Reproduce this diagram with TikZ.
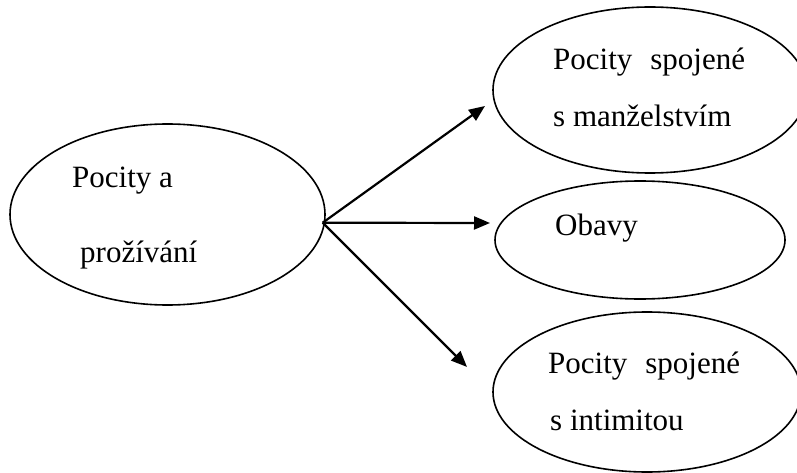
\documentclass[tikz,border=0pt]{standalone}
\usepackage{fontspec}
\setmainfont{Liberation Serif}
\usetikzlibrary{shapes.geometric,arrows.meta}
\begin{document}
\begin{tikzpicture}[x=1pt,y=-1pt,
  bubble/.style={ellipse,draw,line width=1.6pt,inner sep=0pt,outer sep=0pt},
  txt/.style={anchor=base west,inner sep=0pt,font=\fontsize{31}{31}\selectfont},
  conn/.style={line width=2.2pt,-{Triangle[length=16pt,width=13pt]}}]
\useasboundingbox (0,0) rectangle (797,473);
\node[bubble,minimum width=315pt,minimum height=181pt] (src) at (167.5,214.5) {};
\node[bubble,minimum width=314pt,minimum height=166pt] (top) at (650,90) {};
\node[bubble,minimum width=290pt,minimum height=118pt] (mid) at (640,240) {};
\node[bubble,minimum width=308pt,minimum height=160pt] (bot) at (647,392) {};
\node[txt] (s1) at (72,188) {Pocity a};
\node[txt] (s2) at (80,262) {prožívání};
\node[txt] (t1) at (553,70) {Pocity\hspace{18pt}spojené};
\node[txt] (t2) at (553,127) {s manželstvím};
\node[txt] (m1) at (555,235) {Obavy};
\node[txt] (b1) at (548,373) {Pocity\hspace{18pt}spojené};
\node[txt] (b2) at (550,430) {s intimitou};
\coordinate (start) at (322.7,222.7);
\coordinate (tipT) at (485,106);
\coordinate (tipM) at (490,223);
\coordinate (tipB) at (467,367);
\draw[conn] (start) -- (tipT);
\draw[conn] (start) -- (tipM);
\draw[conn] (start) -- (tipB);
\end{tikzpicture}
\end{document}
